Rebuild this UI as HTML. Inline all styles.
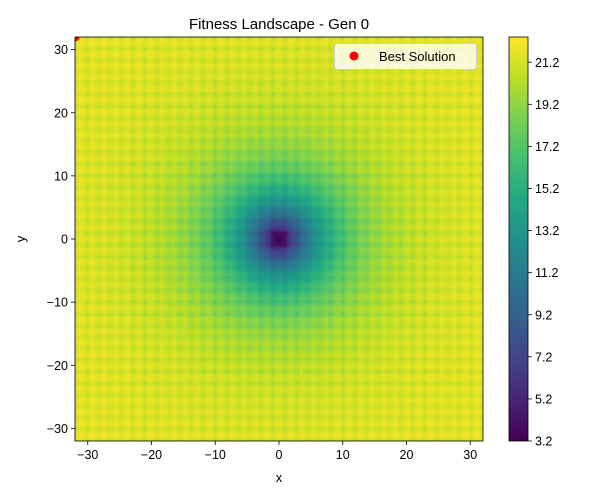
<!DOCTYPE html>
<html><head><meta charset="utf-8">
<style>
body{margin:0;background:#fff;}
#wrap{position:relative;width:600px;height:500px;font-family:"Liberation Sans","DejaVu Sans",sans-serif;}
canvas{position:absolute;}
</style></head>
<body>
<div id="wrap">
<canvas id="hm" width="408" height="404" style="left:75px;top:37px"></canvas>
<canvas id="cb" width="19" height="404" style="left:509px;top:37px"></canvas>
<svg id="ov" width="600" height="500" style="position:absolute;left:0;top:0"></svg>
</div>
<script>
const xTicks=[-30,-20,-10,0,10,20,30];
const yTicks=[-30,-20,-10,0,10,20,30];
const cbTicks=[3.2,5.2,7.2,9.2,11.2,13.2,15.2,17.2,19.2,21.2];
const domain=[-32,32];
const gridN=100;
const cRange=[3.2,22.4];
const bestSolution=[-32,32];
const viridis=["#440154","#482475","#414487","#355f8d","#2a788e","#21918c","#22a884","#44bf70","#7ad151","#bddf26","#fde725"];

const L=75,T=37,W=408,H=404,CBX=509,CBW=19;
const sx=v=>L+(v-domain[0])/(domain[1]-domain[0])*W;
const sy=v=>T+H-(v-domain[0])/(domain[1]-domain[0])*H;
const cy=v=>T+H-(v-cRange[0])/(cRange[1]-cRange[0])*H;
function ackley(x,y){return -20*Math.exp(-0.2*Math.sqrt(0.5*(x*x+y*y)))-Math.exp(0.5*(Math.cos(2*Math.PI*x)+Math.cos(2*Math.PI*y)))+Math.E+20;}
const rgb=viridis.map(h=>[1,3,5].map(i=>parseInt(h.substr(i,2),16)));
function cmap(t){t=Math.max(0,Math.min(1,t));const f=t*10,i=Math.min(9,Math.floor(f)),r=f-i;return rgb[i].map((c,k)=>c+(rgb[i+1][k]-c)*r);}
// grid
const step=(domain[1]-domain[0])/(gridN-1);
const Z=[];for(let j=0;j<gridN;j++){const row=[];for(let i=0;i<gridN;i++)row.push(ackley(domain[0]+i*step,domain[0]+j*step));Z.push(row);}
const hm=document.getElementById('hm').getContext('2d');
const img=hm.createImageData(W,H);
for(let py=0;py<H;py++){const yv=domain[1]-(py+0.5)/H*(domain[1]-domain[0]);
 let gj=(yv-domain[0])/step;let j0=Math.min(gridN-2,Math.floor(gj)),fy=gj-j0;
 for(let px=0;px<W;px++){const xv=domain[0]+(px+0.5)/W*(domain[1]-domain[0]);
  let gi=(xv-domain[0])/step;let i0=Math.min(gridN-2,Math.floor(gi)),fx=gi-i0;
  const z=(Z[j0][i0]*(1-fx)+Z[j0][i0+1]*fx)*(1-fy)+(Z[j0+1][i0]*(1-fx)+Z[j0+1][i0+1]*fx)*fy;
  const c=cmap((z-cRange[0])/(cRange[1]-cRange[0]));const k=(py*W+px)*4;
  img.data[k]=c[0];img.data[k+1]=c[1];img.data[k+2]=c[2];img.data[k+3]=255;}}
hm.putImageData(img,0,0);
const cb=document.getElementById('cb').getContext('2d');
for(let py=0;py<H;py++){const c=cmap(1-(py+0.5)/H);cb.fillStyle=`rgb(${c.map(Math.round).join(',')})`;cb.fillRect(0,py,CBW,1);}
const NS='http://www.w3.org/2000/svg',svg=document.getElementById('ov');
function el(tag,a,txt){const e=document.createElementNS(NS,tag);for(const k in a)e.setAttribute(k,a[k]);if(txt!==undefined)e.textContent=txt;svg.appendChild(e);return e;}
const fmt=v=>v<0?'\u2212'+(-v):''+v;
xTicks.forEach(v=>{const x=sx(v);
 const t=el('line',{x1:x,x2:x,y1:T+H,y2:T+H+4,stroke:'#000','stroke-width':0.8});
 
 const l=el('text',{x:x,y:T+H+18,'text-anchor':'middle','font-size':12.5},fmt(v));
 });
yTicks.forEach(v=>{const y=sy(v);
 const t=el('line',{x1:L-4,x2:L,y1:y,y2:y,stroke:'#000','stroke-width':0.8});
 
 const l=el('text',{x:L-7,y:y+4.5,'text-anchor':'end','font-size':12.5},fmt(v));
 });
cbTicks.forEach(v=>{const y=cy(v);
 const t=el('line',{x1:CBX+CBW,x2:CBX+CBW+4,y1:y,y2:y,stroke:'#000','stroke-width':0.8});
 
 const l=el('text',{x:CBX+CBW+7,y:y+4.5,'font-size':12.5},v.toFixed(1));
 });
// best solution point (clipped)
const cp=el('clipPath',{id:'pc'});const cr=document.createElementNS(NS,'rect');
cr.setAttribute('x',L);cr.setAttribute('y',T);cr.setAttribute('width',W);cr.setAttribute('height',H);cp.appendChild(cr);
const bp=el('circle',{cx:sx(bestSolution[0]),cy:sy(bestSolution[1]),r:4.5,fill:'#ff0000','clip-path':'url(#pc)'});

const fr=el('rect',{x:L,y:T,width:W,height:H,fill:'none',stroke:'#000','stroke-width':0.8});

const cf=el('rect',{x:CBX,y:T,width:CBW,height:H,fill:'none',stroke:'#000','stroke-width':0.8});

const ti=el('text',{x:L+W/2,y:29,'text-anchor':'middle','font-size':15},'Fitness Landscape - Gen 0');

const xl=el('text',{x:L+W/2,y:482,'text-anchor':'middle','font-size':13},'x');

const yl=el('text',{x:25,y:T+H/2,'text-anchor':'middle','font-size':13,transform:`rotate(-90 25 ${T+H/2})`},'y');

const lg=el('rect',{x:334.5,y:43.5,width:142,height:26,rx:3,fill:'#fff','fill-opacity':0.8,stroke:'#ccc'});

const lm=el('circle',{cx:354,cy:56,r:4.5,fill:'#ff0000'});

const lt=el('text',{x:379,y:61,'font-size':13},'Best Solution');

</script>
</body></html>
